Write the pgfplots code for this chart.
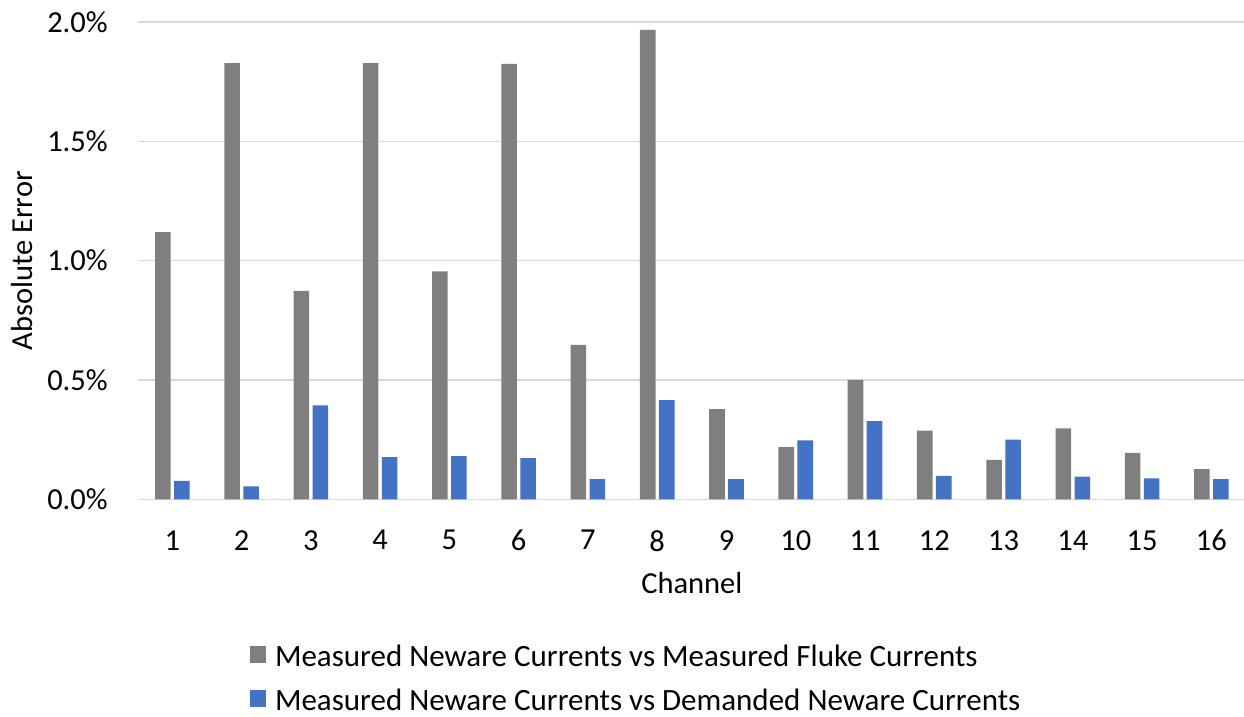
\documentclass[border=0pt]{standalone}
\usepackage{fontspec}
\setmainfont{Carlito}
\usepackage{pgfplots}
\pgfplotsset{compat=1.18}
\definecolor{sgray}{HTML}{7F7F7F}
\definecolor{sblue}{HTML}{4472C4}
\definecolor{gridc}{HTML}{D9D9D9}
\newcommand{\cfont}{\fontsize{15.25pt}{18pt}\selectfont}
\newcommand{\lfont}{\fontsize{15.5pt}{18pt}\selectfont}
\begin{document}
\cfont
\begin{tikzpicture}
\begin{axis}[
  at={(0,0)}, anchor=south west,
  scale only axis,
  width=554.15pt, height=238.65pt,
  xmin=0.5, xmax=16.5, ymin=0, ymax=2,
  ybar=1.7pt, bar width=7.8pt,
  xtick={1,...,16},
  ytick={0,0.5,1,1.5,2},
  major tick length=0pt,
  axis line style={draw=none},
  ymajorgrids,
  grid style={draw=gridc, line width=0.7pt},
  /pgf/number format/assume math mode=true,
  yticklabel={\pgfmathprintnumber[fixed,fixed zerofill,precision=1,assume math mode=true]{\tick}\%},
  tick label style={font=\cfont},
  yticklabel style={anchor=east, inner sep=0pt, xshift=-14.8pt},
  xticklabel style={anchor=north, inner sep=0pt, yshift=-15.35pt},
  label style={font=\cfont},
  ylabel={Absolute Error},
  ylabel style={at={(axis description cs:-0.10439,0.5)}, anchor=center},
  xlabel={Channel},
  xlabel style={at={(axis description cs:0.5,-0.19694)}, anchor=base},
  legend style={
    at={(axis description cs:0.10133,-0.3045)}, anchor=north west,
    draw=none, fill=none, inner sep=0pt, outer sep=0pt,
    font=\lfont, row sep=11pt,
    nodes={inner sep=0pt, text height=11pt, text depth=0pt},
    /tikz/every odd column/.append style={column sep=4.5pt},
  },
  legend cell align=left,
  legend image code/.code={\fill[#1,draw=none] (0pt,-3.9pt) rectangle (8pt,4.8pt);},
]
\addplot[fill=sgray, draw=none] coordinates {
 (1,1.120) (2,1.828) (3,0.873) (4,1.828) (5,0.955) (6,1.825) (7,0.647) (8,1.967)
 (9,0.378) (10,0.219) (11,0.500) (12,0.288) (13,0.165) (14,0.297) (15,0.195) (16,0.126)};
\addplot[fill=sblue, draw=none] coordinates {
 (1,0.077) (2,0.054) (3,0.394) (4,0.177) (5,0.181) (6,0.173) (7,0.085) (8,0.416)
 (9,0.085) (10,0.247) (11,0.328) (12,0.098) (13,0.250) (14,0.095) (15,0.088) (16,0.085)};
\addlegendentry{Measured Neware Currents vs Measured Fluke Currents}
\addlegendentry{Measured Neware Currents vs Demanded Neware Currents}
\end{axis}
\pgfresetboundingbox
\useasboundingbox (-68.85pt,-108.85pt) rectangle (553.15pt,249.65pt);
\end{tikzpicture}
\end{document}
